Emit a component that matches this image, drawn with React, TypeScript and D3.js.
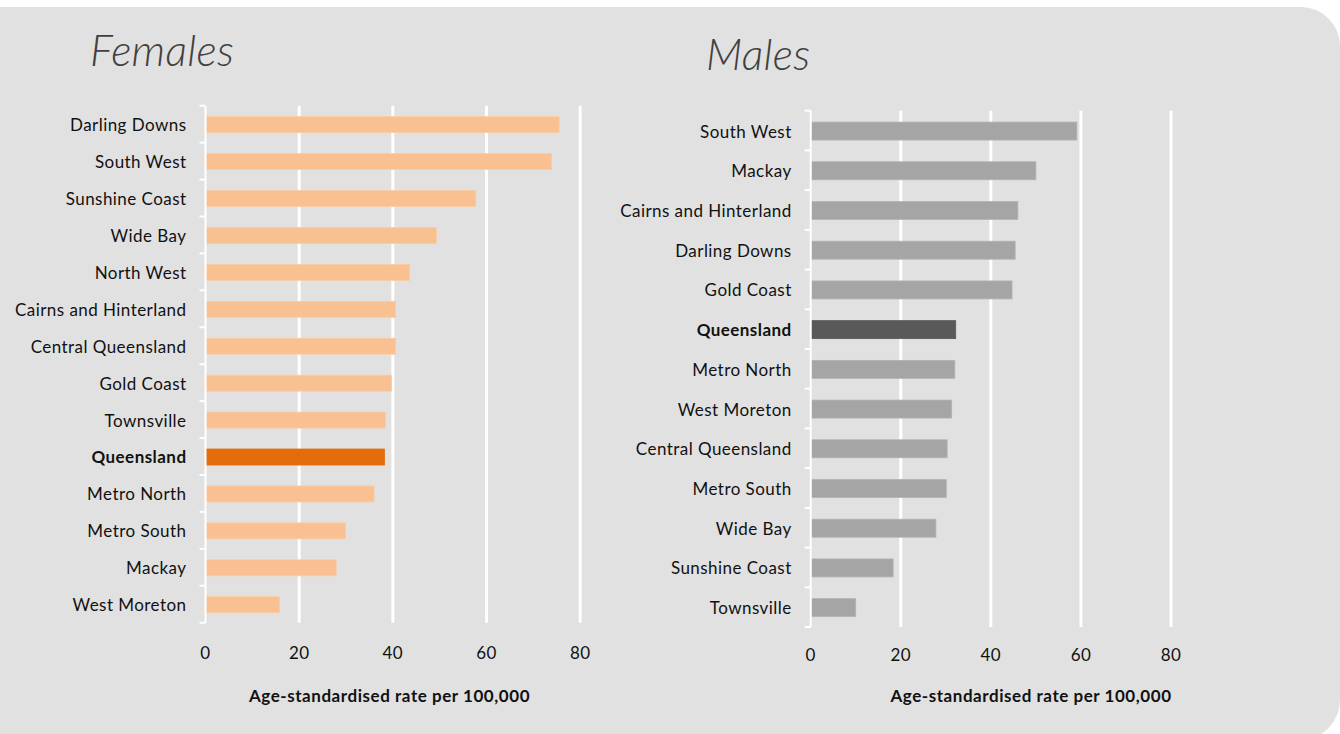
import React from "react";
import * as d3 from "d3";

// Age-standardised rates per 100,000 by Hospital and Health Service region
const femaleRegions = [
  "Darling Downs",
  "South West",
  "Sunshine Coast",
  "Wide Bay",
  "North West",
  "Cairns and Hinterland",
  "Central Queensland",
  "Gold Coast",
  "Townsville",
  "Queensland",
  "Metro North",
  "Metro South",
  "Mackay",
  "West Moreton",
];
const femaleRates = [75.5, 73.9, 57.7, 49.3, 43.6, 40.6, 40.6, 39.7, 38.4, 38.2, 36.0, 29.9, 27.9, 15.8];

const maleRegions = [
  "South West",
  "Mackay",
  "Cairns and Hinterland",
  "Darling Downs",
  "Gold Coast",
  "Queensland",
  "Metro North",
  "West Moreton",
  "Central Queensland",
  "Metro South",
  "Wide Bay",
  "Sunshine Coast",
  "Townsville",
];
const maleRates = [59.1, 50.0, 46.0, 45.4, 44.7, 32.2, 32.0, 31.3, 30.3, 30.1, 27.8, 18.3, 10.0];

const xTicks = [0, 20, 40, 60, 80];
const stateName = "Queensland";
const axisTitle = "Age-standardised rate per 100,000";

const FONT = "Lato, 'Open Sans', sans-serif";
const BG = "#e1e1e1";

type PanelProps = {
  title: string;
  titleX: number;
  titleY: number;
  regions: string[];
  rates: number[];
  x0: number;
  x1: number;
  yTop: number;
  yBottom: number;
  barFrac: number;
  tickLabelY: number;
  axisTitleX: number;
  axisTitleY: number;
  fill: string;
  stroke: string;
  highlight: string;
};

function Panel(p: PanelProps) {
  const x = d3.scaleLinear().domain([0, 80]).range([p.x0, p.x1]);
  const y = d3.scaleBand<string>().domain(p.regions).range([p.yTop, p.yBottom]).padding(0);
  const bw = y.bandwidth();
  const bh = bw * p.barFrac;
  const boundaries = d3.range(p.regions.length + 1).map((i) => p.yTop + i * y.step());

  return (
    <g>
      <text
        x={p.titleX}
        y={p.titleY}
        fontFamily={FONT}
        fontStyle="italic"
        fontWeight={300}
        fontSize={43}
        fill="#404040"
        letterSpacing={0.3}
      >
        {p.title}
      </text>

      {/* vertical gridlines */}
      {xTicks
        .filter((t) => t > 0)
        .map((t) => (
          <line
            key={"g" + t}
            x1={x(t)}
            x2={x(t)}
            y1={p.yTop}
            y2={p.yBottom}
            stroke="#ffffff"
            strokeWidth={3}
          />
        ))}

      {/* bars */}
      {p.regions.map((r, i) => {
        const isState = r === stateName;
        return (
          <rect
            key={r}
            x={x(0) + 1}
            y={(y(r) as number) + (bw - bh) / 2 + 0.5}
            width={x(p.rates[i]) - x(0) - 1}
            height={bh}
            fill={isState ? p.highlight : p.fill}
            stroke={isState ? p.highlight : p.stroke}
            strokeWidth={0.8}
          />
        );
      })}

      {/* category axis with tick marks between bands */}
      <line x1={x(0)} x2={x(0)} y1={p.yTop} y2={p.yBottom} stroke="#ffffff" strokeWidth={2} />
      {boundaries.map((b, i) => (
        <line key={"t" + i} x1={x(0) - 6} x2={x(0)} y1={b} y2={b} stroke="#ffffff" strokeWidth={2} />
      ))}

      {/* category labels */}
      {p.regions.map((r) => (
        <text
          key={"l" + r}
          x={x(0) - 19}
          y={(y(r) as number) + bw / 2 + 1}
          dy="0.35em"
          textAnchor="end"
          fontFamily={FONT}
          fontSize={17}
          letterSpacing={0.45}
          fontWeight={r === stateName ? 700 : 400}
          fill="#111111"
        >
          {r}
        </text>
      ))}

      {/* value axis labels */}
      {xTicks.map((t) => (
        <text
          key={"v" + t}
          x={x(t)}
          y={p.tickLabelY}
          dy="0.35em"
          textAnchor="middle"
          fontFamily={FONT}
          fontSize={17}
          letterSpacing={0.4}
          fill="#111111"
        >
          {t}
        </text>
      ))}

      <text
        x={p.axisTitleX}
        y={p.axisTitleY}
        textAnchor="middle"
        fontFamily={FONT}
        fontSize={17}
        letterSpacing={0.55}
        fontWeight={700}
        fill="#111111"
      >
        {axisTitle}
      </text>
    </g>
  );
}

export default function App() {
  const W = 1340;
  const H = 734;
  const bgPath = d3.path();
  bgPath.moveTo(-20, 7);
  bgPath.lineTo(1301, 7);
  bgPath.arcTo(1340, 7, 1340, 46, 39);
  bgPath.lineTo(1340, 700);
  bgPath.arcTo(1340, 740, 1300, 740, 40);
  bgPath.lineTo(-20, 740);
  bgPath.closePath();

  return (
    <svg
      width={W}
      height={H}
      viewBox={`0 0 ${W} ${H}`}
      style={{ position: "absolute", left: 0, top: 0, display: "block" }}
    >
      <rect x={0} y={0} width={W} height={H} fill="#ffffff" />
      <path d={bgPath.toString()} fill={BG} />
      <Panel
        title="Females"
        titleX={90}
        titleY={66}
        regions={femaleRegions}
        rates={femaleRates}
        x0={205.5}
        x1={580.2}
        yTop={105.7}
        yBottom={622.7}
        barFrac={0.433}
        tickLabelY={653}
        axisTitleX={389.5}
        axisTitleY={702}
        fill="#f9c191"
        stroke="#fbcca3"
        highlight="#e46c0a"
      />
      <Panel
        title="Males"
        titleX={706}
        titleY={70}
        regions={maleRegions}
        rates={maleRates}
        x0={810.7}
        x1={1171}
        yTop={110.7}
        yBottom={627}
        barFrac={0.453}
        tickLabelY={655}
        axisTitleX={1031}
        axisTitleY={702}
        fill="#a5a5a5"
        stroke="#b3b3b3"
        highlight="#595959"
      />
    </svg>
  );
}
